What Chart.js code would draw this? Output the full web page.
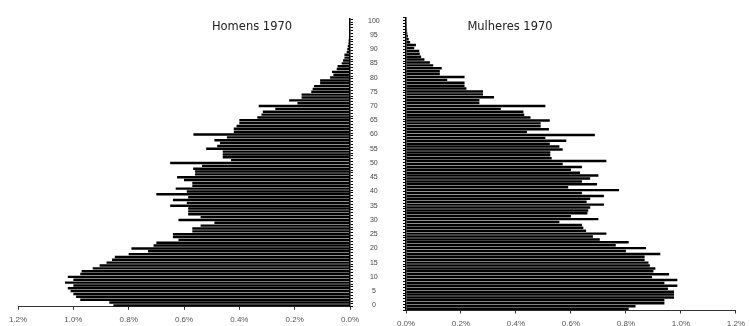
<!DOCTYPE html>
<html lang="pt">
<head>
<meta charset="utf-8">
<title>Pirâmide etária 1970</title>
<script src="https://cdn.jsdelivr.net/npm/chart.js@4.4.1/dist/chart.umd.min.js"></script>
<style>
  html, body { margin: 0; padding: 0; background: #fff; }
  #wrap { position: relative; width: 750px; height: 326px; overflow: hidden; }
  #wrap canvas { position: absolute; top: 0; }
  #left { left: 0; }
  #right { left: 380px; }
  .ttl { position: absolute; top: 19px; font: 11.5px "DejaVu Sans", sans-serif; color: #222;
         transform: translateX(-50%); white-space: nowrap; }
</style>
</head>
<body>
<div id="wrap">
  <canvas id="left" width="400" height="326"></canvas>
  <canvas id="right" width="370" height="326"></canvas>
  <div class="ttl" style="left:252px">Homens 1970</div>
  <div class="ttl" style="left:510px">Mulheres 1970</div>
</div>
<script>
// idades 0..100 (categorias)
const ages = Array.from({ length: 101 }, (_, i) => String(i));

// % da população total por idade simples — homens
const homens = [
  0.855, 0.87, 0.975, 0.99, 1.0, 1.01, 1.02, 1.0, 1.03, 1.0,
  1.02, 0.975, 0.97, 0.93, 0.905, 0.88, 0.86, 0.85, 0.80, 0.73,
  0.79, 0.71, 0.70, 0.62, 0.64, 0.64, 0.57, 0.57, 0.54, 0.49,
  0.62, 0.54, 0.585, 0.585, 0.585, 0.65, 0.59, 0.64, 0.585, 0.70,
  0.59, 0.63, 0.57, 0.57, 0.60, 0.625, 0.56, 0.56, 0.567, 0.535,
  0.65, 0.43, 0.46, 0.46, 0.46, 0.52, 0.48, 0.47, 0.49, 0.445,
  0.566, 0.42, 0.42, 0.41, 0.40, 0.40, 0.335, 0.32, 0.315, 0.27,
  0.33, 0.19, 0.22, 0.175, 0.175, 0.14, 0.135, 0.13, 0.108, 0.108,
  0.072, 0.06, 0.065, 0.048, 0.045, 0.03, 0.025, 0.02, 0.02, 0.012,
  0.01, 0.008, 0.006, 0.005, 0.004, 0.003, 0.003, 0.002, 0.002, 0.001,
  0.001
];

// mulheres
const mulheres = [
  0.81, 0.835, 0.94, 0.94, 0.975, 0.975, 0.975, 0.953, 0.987, 0.94,
  0.987, 0.895, 0.957, 0.90, 0.907, 0.887, 0.882, 0.868, 0.868, 0.925,
  0.80, 0.873, 0.763, 0.81, 0.705, 0.68, 0.729, 0.655, 0.645, 0.64,
  0.558, 0.70, 0.60, 0.66, 0.663, 0.67, 0.72, 0.657, 0.67, 0.72,
  0.64, 0.775, 0.59, 0.695, 0.64, 0.67, 0.70, 0.633, 0.60, 0.64,
  0.57, 0.729, 0.53, 0.525, 0.525, 0.57, 0.558, 0.523, 0.583, 0.507,
  0.687, 0.44, 0.52, 0.49, 0.49, 0.523, 0.453, 0.43, 0.427, 0.345,
  0.507, 0.267, 0.267, 0.32, 0.28, 0.28, 0.22, 0.213, 0.213, 0.15,
  0.213, 0.123, 0.123, 0.13, 0.099, 0.087, 0.067, 0.055, 0.05, 0.048,
  0.03, 0.036, 0.015, 0.01, 0.007, 0.005, 0.004, 0.003, 0.003, 0.002,
  0.002
];

const xMax = 1.2;
const xStep = 0.2;

function pctLabel(v) { return v.toFixed(1) + "%"; }

function makeOptions(side) {
  const isLeft = side === "left";
  return {
    indexAxis: "y",
    responsive: false,
    animation: false,
    layout: { padding: isLeft ? { left: 18, top: 17.5, right: 0, bottom: 0 }
                              : { left: 0, top: 17.5, right: 12, bottom: 0 } },
    plugins: { legend: { display: false }, tooltip: { enabled: false } },
    scales: {
      x: {
        min: 0, max: xMax, reverse: isLeft,
        grid: { drawOnChartArea: false, drawTicks: true, tickLength: 3, color: "#333" },
        border: { display: true, color: "#333", width: 1 },
        ticks: { stepSize: xStep, padding: 5, color: "#555",
                 font: { family: "Liberation Sans", size: 8 },
                 callback: v => pctLabel(v) },
        afterFit: s => { s.height = 15.5; }
      },
      y: {
        type: "category", reverse: true, offset: true,
        position: isLeft ? "right" : "left",
        grid: { drawOnChartArea: false, drawTicks: true, tickLength: 3, color: "#000" },
        border: { display: true, color: "#000", width: 1.5 },
        ticks: isLeft
          ? { autoSkip: false, crossAlign: "center", padding: 15, color: "#444",
              font: { family: "Liberation Sans", size: 7 },
              callback: v => (Number(ages[v]) % 5 === 0 ? ages[v] : "") }
          : { autoSkip: false, callback: () => "" },
        afterFit: s => { s.width = isLeft ? 50 : 26; }
      }
    }
  };
}

function barSet(label, data) {
  return {
    label: label, data: data,
    backgroundColor: "#000", borderWidth: 0,
    barPercentage: 0.85, categoryPercentage: 1
  };
}

new Chart(document.getElementById("left"), {
  type: "bar",
  data: { labels: ages, datasets: [barSet("Homens 1970", homens)] },
  options: makeOptions("left")
});

new Chart(document.getElementById("right"), {
  type: "bar",
  data: { labels: ages, datasets: [barSet("Mulheres 1970", mulheres)] },
  options: makeOptions("right")
});
</script>
</body>
</html>
